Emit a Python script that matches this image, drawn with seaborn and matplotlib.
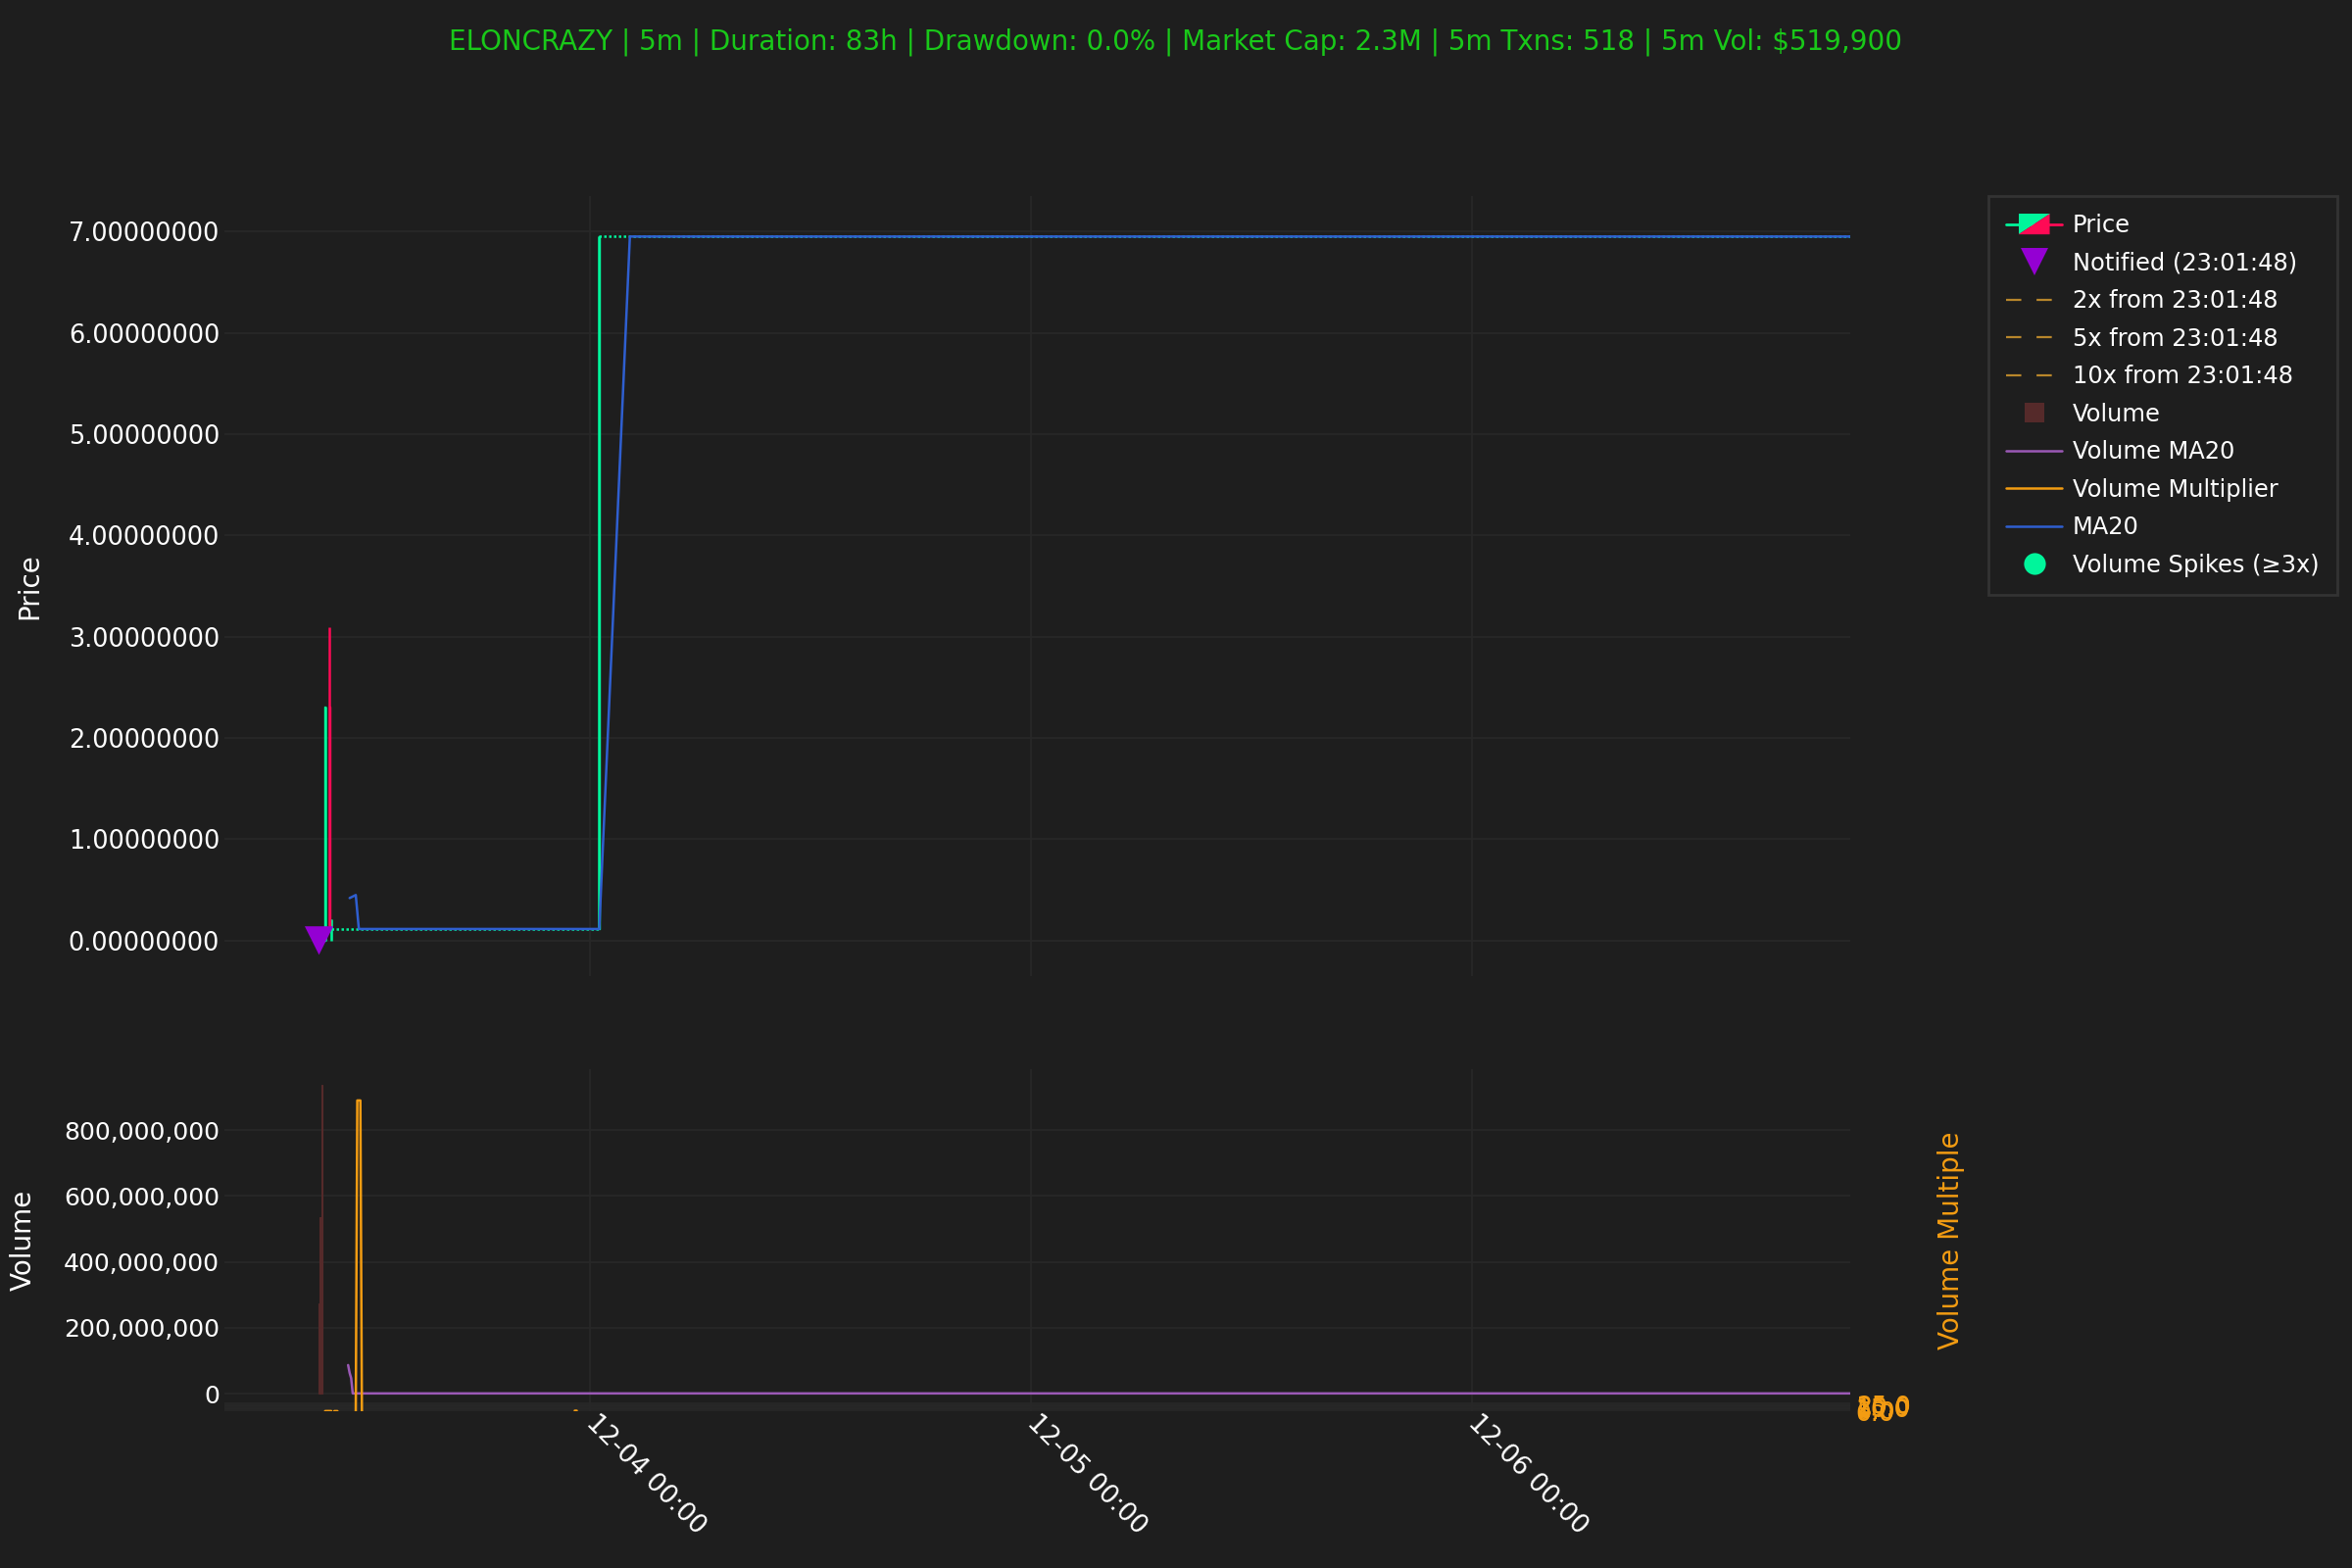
import matplotlib
matplotlib.use('Agg')
import matplotlib.pyplot as plt
import matplotlib.dates as mdates
import matplotlib.ticker as mticker
from matplotlib.lines import Line2D
from matplotlib.patches import Polygon
from matplotlib.legend_handler import HandlerBase
import pandas as pd
import seaborn as sns

# ---------------- data (times are minutes after the first candle) ----------------
START = pd.Timestamp('2024-12-03 09:10')
END_MIN = 5005

candle_t = [5, 10, 25, 40, 45, 920]
candle_open = [0.0, 0.04, 0.0, 2.31, 0.02, 0.115]
candle_close = [0.0, 0.0, 2.31, 0.10, 0.21, 6.95]
candle_high = [0.0, 0.04, 2.31, 3.09, 0.21, 6.95]
candle_low = [0.0, 0.0, 0.0, 0.10, 0.0, 0.115]

# long runs of flat doji candles
flat_start = [45, 920]
flat_end = [920, END_MIN]
flat_price = [0.115, 6.95]

ma20_t = [105, 125, 135, 920, 1020, END_MIN]
ma20_v = [0.42, 0.45, 0.115, 0.115, 6.95, 6.95]

notify_t = 5
notify_price = 0.0004
target_mult = [2, 5, 10]

vol_t = [5, 10, 15]
vol_v = [274e6, 536e6, 936e6]

vol_ma_t = [100, 105, 110, 115, END_MIN]
vol_ma_v = [87e6, 63e6, 47e6, 1e6, 1e6]

mult_seg = [0, 0, 0, 1, 1, 2, 2, 2, 2, 3, 3]
mult_t = [25, 35, 45, 55, 65, 125, 130, 140, 145, 840, 846]
mult_v = [0.4, 0.6, 0.5, 0.3, 0.4, 0, 1000, 1000, 0, 2, 2]
mult_ticks = [0, 5, 10, 15, 20, 25]

title = ('ELONCRAZY | 5m | Duration: 83h | Drawdown: 0.0% | Market Cap: 2.3M | '
         '5m Txns: 518 | 5m Vol: $519,900')

# ---------------- style ----------------
BG = '#1e1e1e'
GREEN = '#00f59b'
RED = '#ff0a55'
BLUE = '#2f5fd0'
PURPLE = '#9b59b6'
ORANGE = '#f39c12'
TARGET = '#b8862b'
VOLC = '#552a2a'

sns.set_style('dark')
plt.rcParams.update({
    'figure.facecolor': BG, 'axes.facecolor': BG, 'savefig.facecolor': BG,
    'axes.edgecolor': BG, 'axes.grid': True, 'grid.color': '#282828',
    'grid.linewidth': 0.6, 'text.color': 'white', 'axes.labelcolor': 'white',
    'xtick.color': 'white', 'ytick.color': 'white',
    'xtick.labelsize': 9.5, 'ytick.labelsize': 9.2, 'axes.labelsize': 10,
    'patch.edgecolor': 'none',
})
plt.rcParams['font.family'] = ['DejaVu Sans']


def tm(m):
    return START + pd.to_timedelta(m, unit='min')


candles = pd.DataFrame({'time': tm(pd.Series(candle_t)), 'open': candle_open,
                        'close': candle_close, 'high': candle_high, 'low': candle_low})
ma20 = pd.DataFrame({'time': tm(pd.Series(ma20_t)), 'ma': ma20_v})
vol = pd.DataFrame({'time': tm(pd.Series(vol_t)), 'vol': vol_v})
vol_ma = pd.DataFrame({'time': tm(pd.Series(vol_ma_t)), 'vma': vol_ma_v})
mult = pd.DataFrame({'time': tm(pd.Series(mult_t)), 'mult': mult_v, 'seg': mult_seg})

fig = plt.figure(figsize=(12, 8), dpi=200)
ax = fig.add_axes([0.0954, 0.3775, 0.6913, 0.4975])
axv = fig.add_axes([0.0954, 0.10, 0.6913, 0.218], sharex=ax)

# ---- price candles ----
w = 5 / 1440 * 0.6
up = candles['close'] >= candles['open']
for is_up, col in [(True, GREEN), (False, RED)]:
    c = candles[up == is_up]
    ax.vlines(c['time'], c['low'], c['high'], color=col, lw=0.9, zorder=3)
    ax.bar(c['time'], (c['close'] - c['open']).abs().clip(lower=0.004),
           bottom=c[['open', 'close']].min(axis=1), width=w, color=col,
           edgecolor=col, lw=0.5, zorder=3)
for s, e, p in zip(flat_start, flat_end, flat_price):
    ax.hlines(p, tm(s), tm(e), color=GREEN, lw=0.9, linestyles=(0, (1, 1)), zorder=2)

sns.lineplot(data=ma20, x='time', y='ma', color=BLUE, lw=0.9, ax=ax, zorder=4)
for m in target_mult:
    ax.hlines(notify_price * m, tm(notify_t), tm(notify_t + 5), color=TARGET,
              lw=0.8, linestyles=(0, (5, 5)), alpha=0.7)
ax.scatter([tm(notify_t)], [notify_price], marker='v', s=110, color='#9400d3',
           edgecolor='none', zorder=5)

ax.set_ylim(-0.35, 7.35)
ax.yaxis.set_major_formatter(mticker.FuncFormatter(lambda v, p: f'{v:.8f}'))
ax.set_ylabel('Price')
ax.yaxis.set_label_coords(-0.1115, 0.5)
ax.set_xlabel('')
ax.tick_params(axis='x', labelbottom=False, length=0)
ax.tick_params(axis='y', length=0, pad=1.7)

# ---- volume ----
axv.bar(vol['time'], vol['vol'], width=5 / 1440 * 0.8, color=VOLC,
        edgecolor=VOLC, lw=0.4, zorder=2)
sns.lineplot(data=vol_ma, x='time', y='vma', color=PURPLE, lw=0.9, ax=axv, zorder=3)
axv.set_ylim(-53e6, 984e6)
axv.yaxis.set_major_locator(mticker.MultipleLocator(200e6))
axv.yaxis.set_major_formatter(mticker.FuncFormatter(lambda v, p: f'{v:,.0f}'))
axv.set_ylabel('Volume')
axv.yaxis.set_label_coords(-0.1151, 0.5)
axv.set_xlabel('')
axv.tick_params(axis='y', length=0, pad=1.7, labelsize=9)
axv.tick_params(axis='x', length=0, pad=3)

ax2 = axv.twinx()
sns.lineplot(data=mult, x='time', y='mult', units='seg', estimator=None,
             color=ORANGE, lw=0.9, ax=ax2, zorder=3)
ax2.set_ylim(0, 1100)
ax2.set_yticks(mult_ticks)
ax2.yaxis.set_major_formatter(mticker.FuncFormatter(lambda v, p: f'{v:.1f}'))
ax2.tick_params(axis='y', colors=ORANGE, length=0, pad=2, labelsize=9)
ax2.set_ylabel('Volume Multiple', color=ORANGE)
ax2.yaxis.set_label_coords(1.0537, 0.5)
ax2.set_xlabel('')
for a in (ax, axv, ax2):
    for sp in a.spines.values():
        sp.set_visible(False)

axv.set_xlim(tm(-304), tm(END_MIN))
axv.xaxis.set_major_locator(mdates.DayLocator())
axv.xaxis.set_major_formatter(mdates.DateFormatter('%m-%d %H:%M'))
for lab in axv.get_xticklabels():
    lab.set_rotation(-45)
    lab.set_rotation_mode('anchor')
    lab.set_ha('left')
    lab.set_va('center')


# ---- legend ----
class PriceHandle:
    pass


class HandlerPrice(HandlerBase):
    def create_artists(self, legend, orig_handle, xdescent, ydescent, width, height,
                       fontsize, trans):
        x0, y0 = -xdescent, -ydescent
        ym = y0 + height / 2
        xc = x0 + width / 2
        hw, hh = width * 0.28, height * 0.62
        l1 = Line2D([x0, xc], [ym, ym], color=GREEN, lw=1, transform=trans)
        l2 = Line2D([xc, x0 + width], [ym, ym], color=RED, lw=1, transform=trans)
        g = Polygon([[xc - hw, ym - hh], [xc - hw, ym + hh], [xc + hw, ym + hh]],
                    closed=True, fc=GREEN, ec='none', transform=trans)
        r = Polygon([[xc - hw, ym - hh], [xc + hw, ym + hh], [xc + hw, ym - hh]],
                    closed=True, fc=RED, ec='none', transform=trans)
        return [l1, l2, g, r]


DASH = (0, (7, 7))
handles = [
    PriceHandle(),
    Line2D([], [], marker='v', color='#9400d3', ls='none', markersize=10,
           markeredgewidth=0),
    Line2D([], [], color=TARGET, lw=0.8, ls=DASH),
    Line2D([], [], color=TARGET, lw=0.8, ls=DASH),
    Line2D([], [], color=TARGET, lw=0.8, ls=DASH),
    Line2D([], [], marker='s', color=VOLC, ls='none', markersize=7.5,
           markeredgewidth=0),
    Line2D([], [], color=PURPLE, lw=0.9),
    Line2D([], [], color=ORANGE, lw=0.9),
    Line2D([], [], color=BLUE, lw=0.9),
    Line2D([], [], marker='o', color=GREEN, ls='none', markersize=8,
           markeredgewidth=0),
]
labels = ['Price', 'Notified (23:01:48)', '2x from 23:01:48', '5x from 23:01:48',
          '10x from 23:01:48', 'Volume', 'Volume MA20', 'Volume Multiplier', 'MA20',
          'Volume Spikes (≥3x)']
leg = ax.legend(handles, labels, handler_map={PriceHandle: HandlerPrice()},
                loc='upper left', bbox_to_anchor=(1.085, 1.0), borderaxespad=0,
                fontsize=8.7, frameon=True, facecolor=BG, edgecolor='#333333',
                framealpha=1, labelcolor='white', fancybox=False,
                handlelength=2.35, handletextpad=0.45, labelspacing=0.6,
                borderpad=0.75)

fig.suptitle(title, color='#19c819', fontsize=10, y=0.982)
fig.savefig('out.png', dpi=200)
